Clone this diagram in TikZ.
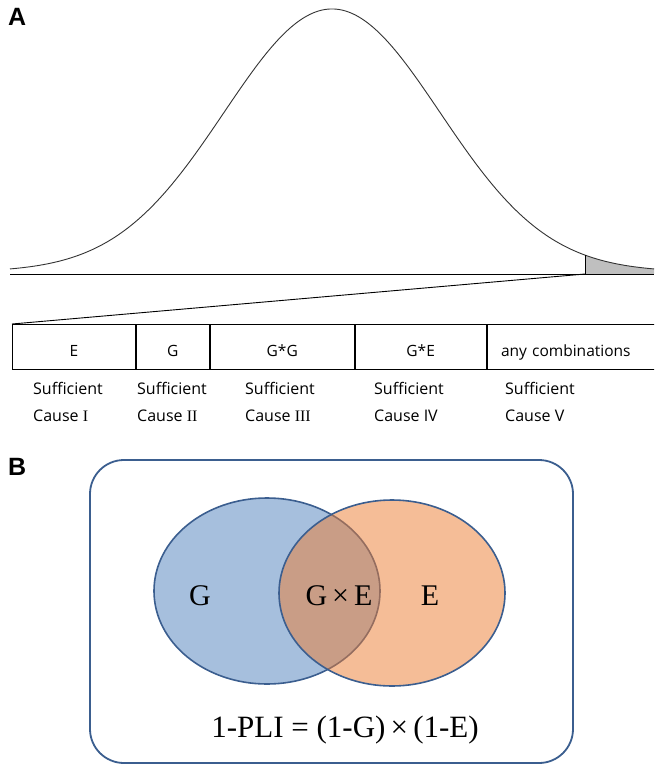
\documentclass[tikz,border=0pt]{standalone}
\usepackage{fontspec}
\setmainfont{Liberation Serif}
\newfontfamily\cellfont{Open Sans}
\newfontfamily\panelfont{Liberation Sans}
\usepackage{tikz}
\usetikzlibrary{arrows,%
                shapes,positioning}
\definecolor{vennline}{HTML}{3B5E8F}
\definecolor{gfill}{HTML}{4F81BD}
\definecolor{efill}{HTML}{ED7D31}
\tikzset{
  panel/.style={font=\panelfont\bfseries\fontsize{25}{25}\selectfont, inner sep=0pt, anchor=north west},
  cell/.style={draw, line width=0.9pt, minimum height=45pt, anchor=north west, inner sep=0pt,
               text height=20pt, text depth=0pt, font=\cellfont\fontsize{15.5}{18}\selectfont},
  cause/.style={font=\cellfont\fontsize{16}{18}\selectfont, inner sep=0pt, anchor=base west},
  venntext/.style={font=\fontsize{30}{30}\selectfont, inner sep=0pt, anchor=base},
}
\newcommand{\rom}[1]{{\fontspec{Liberation Serif}#1}}
\begin{document}
\begin{tikzpicture}[x=1pt,y=-1pt]
\clip (0,0) rectangle (654,765);
\fill[white] (0,0) rectangle (654,765);

% panel A: distribution
\node[panel] (labA) at (8,8) {A};
\fill[gray!50] (585,274) -- plot[domain=585:654, samples=40] (\x, {272-263*exp(-((\x-332)/108)^2/2)}) -- (654,274) -- cycle;
\draw[line width=0.9pt, black!80] plot[domain=10:654, samples=220] (\x, {272-263*exp(-((\x-332)/108)^2/2)});
\draw[line width=0.9pt] (10,274) -- (654,274);
\draw[line width=0.8pt] (585,274) -- (585,255);
\coordinate (tail) at (585,274);

\node[cell, minimum width=123pt] (cellE) at (12,324) {E};
\node[cell, minimum width=73pt] (cellG) at (cellE.north east) {G};
\node[cell, minimum width=144pt] (cellGG) at (cellG.north east) {G*G};
\node[cell, minimum width=131pt] (cellGE) at (cellGG.north east) {G*E};
\node[cell, minimum width=185pt, text width=171pt, align=left] (cellAny) at (cellGE.north east) {\hspace*{7pt}any combinations};
\draw[line width=0.9pt] (tail) -- (cellE.north west);

\node[cause] (suf1) at (33,394) {Sufficient};
\node[cause] (cau1) at (33,421) {Cause \rom{I}};
\node[cause] (suf2) at (137,394) {Sufficient};
\node[cause] (cau2) at (137,421) {Cause \rom{II}};
\node[cause] (suf3) at (245,394) {Sufficient};
\node[cause] (cau3) at (245,421) {Cause \rom{III}};
\node[cause] (suf4) at (374,394) {Sufficient};
\node[cause] (cau4) at (374,421) {Cause IV};
\node[cause] (suf5) at (505,394) {Sufficient};
\node[cause] (cau5) at (505,421) {Cause V};

% panel B: venn
\node[panel] (labB) at (8,458) {B};
\draw[vennline, line width=1.8pt, rounded corners=34pt] (90,460) rectangle (573,763);
\fill[gfill, fill opacity=0.5] (267,591) ellipse [x radius=113, y radius=93];
\draw[vennline, line width=1.6pt] (267,591) ellipse [x radius=113, y radius=93];
\fill[efill, fill opacity=0.5] (392,593) ellipse [x radius=113, y radius=93];
\draw[vennline, line width=1.6pt] (392,593) ellipse [x radius=113, y radius=93];

\node[venntext] (txtG) at (200,605) {G};
\node[venntext] (txtGE) at (339,605) {G\,×\,E};
\node[venntext] (txtE) at (430,605) {E};
\node[venntext, font=\fontsize{31}{31}\selectfont] (pli) at (345,737) {1-PLI = (1-G)\,×\,(1-E)};
\end{tikzpicture}
\end{document}
